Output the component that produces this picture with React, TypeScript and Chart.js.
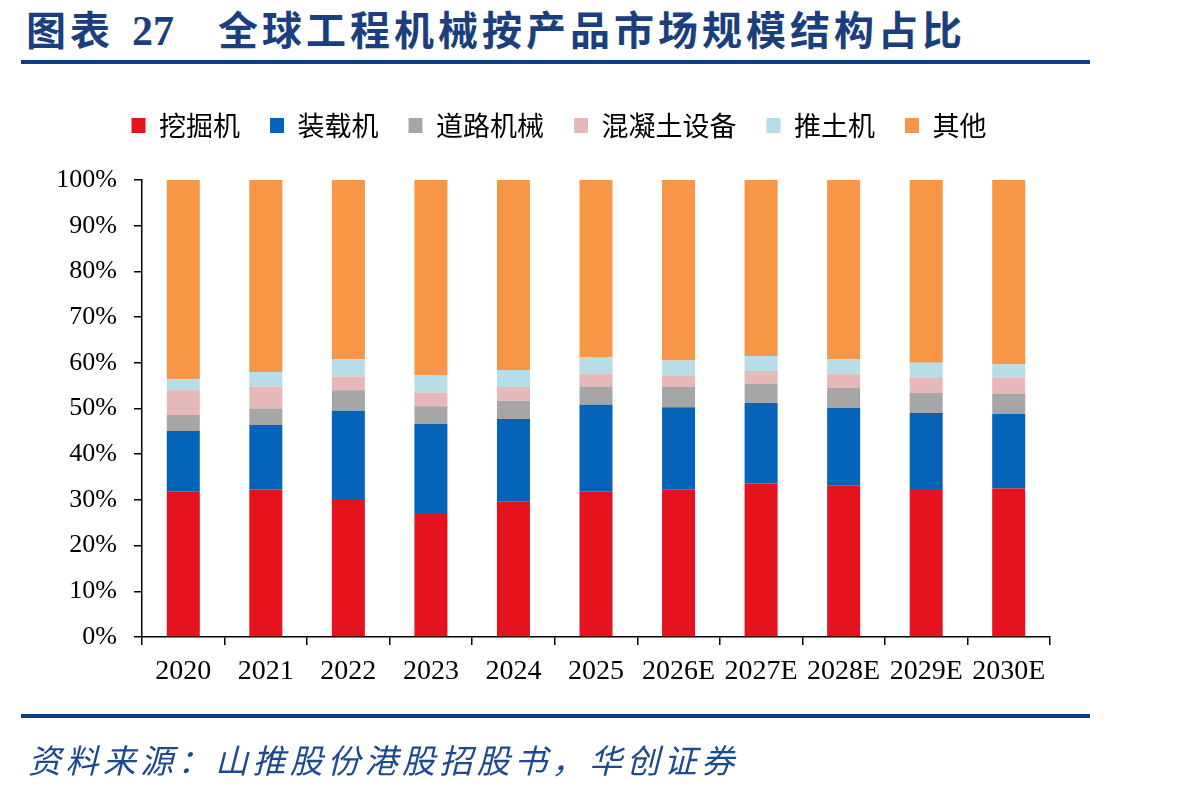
import React, { useEffect, useRef } from "react";
import { Chart, registerables } from "chart.js";

Chart.register(...registerables);

const categories = ["2020", "2021", "2022", "2023", "2024", "2025", "2026E", "2027E", "2028E", "2029E", "2030E"];
const seriesNames = ["挖掘机", "装载机", "道路机械", "混凝土设备", "推土机", "其他"];
const excavator = [31.9, 32.3, 30.0, 26.9, 29.6, 31.8, 32.2, 33.6, 33.2, 32.4, 32.5];
const loader = [13.2, 14.1, 19.5, 19.7, 18.1, 19.0, 18.1, 17.6, 16.9, 16.6, 16.3];
const roadMachinery = [3.5, 3.6, 4.5, 3.9, 4.0, 4.0, 4.4, 4.2, 4.4, 4.4, 4.4];
const concreteEquip = [5.4, 4.8, 3.0, 3.0, 3.0, 2.8, 2.5, 2.8, 3.1, 3.3, 3.5];
const bulldozer = [2.4, 3.2, 3.8, 3.8, 3.7, 3.6, 3.3, 3.3, 3.2, 3.3, 3.0];
const others = [43.6, 42.0, 39.2, 42.7, 41.6, 38.8, 39.5, 38.5, 39.2, 40.0, 40.3];
const yTicks = [0, 10, 20, 30, 40, 50, 60, 70, 80, 90, 100];
const colors = ["#E4131E", "#0563BA", "#A6A6A6", "#E6B8B7", "#B7DEE8", "#F79646"];

const titleText = "全球工程机械按产品市场规模结构占比";
const sourceText = "资料来源：山推股份港股招股书，华创证券";

const legendSpacer = {
  id: "legendSpacer",
  beforeInit(chart: any) {
    if (!chart.legend) return;
    const orig = chart.legend.fit;
    chart.legend.fit = function fit() {
      orig.bind(chart.legend)();
      this.height += 31;
    };
  },
  afterLayout(chart: any) {
    if (!chart.legend) return;
    chart.legend.left += 9;
    chart.legend.right += 9;
  },
};

export default function App() {
  const ref = useRef<HTMLCanvasElement | null>(null);

  useEffect(() => {
    if (!ref.current) return;
    const allSeries = [excavator, loader, roadMachinery, concreteEquip, bulldozer, others];
    const chart = new Chart(ref.current, {
      type: "bar",
      data: {
        labels: categories,
        datasets: allSeries.map((d, i) => ({
          label: seriesNames[i],
          data: d,
          backgroundColor: colors[i],
          borderWidth: 0,
          barPercentage: 0.4,
          categoryPercentage: 1.0,
        })),
      },
      plugins: [legendSpacer],
      options: {
        responsive: false,
        animation: false,
        events: [],
        layout: { padding: { left: 50, right: 148, top: 82, bottom: 0 } },
        plugins: {
          tooltip: { enabled: false },
          legend: {
            display: true,
            position: "top",
            labels: {
              boxWidth: 14,
              boxHeight: 15,
              padding: 30,
              color: "#000",
              font: { family: "'Noto Sans CJK SC'", size: 27 },
            },
          },
        },
        scales: {
          x: {
            stacked: true,
            afterFit: (s: any) => {
              s.height = 155;
            },
            border: { display: true, color: "#000", width: 1.5 },
            grid: { display: true, drawOnChartArea: false, drawTicks: true, tickLength: 8, color: "#000", lineWidth: 1.5 },
            ticks: {
              color: "#000",
              padding: 10,
              maxRotation: 0,
              autoSkip: false,
              font: { family: "'Liberation Serif'", size: 28 },
            },
          },
          y: {
            stacked: true,
            min: 0,
            max: 100,
            afterFit: (s: any) => {
              s.width = 92;
            },
            afterBuildTicks: (s: any) => {
              s.ticks = yTicks.map((v) => ({ value: v }));
            },
            border: { display: true, color: "#000", width: 1.5 },
            grid: { display: true, drawOnChartArea: false, drawTicks: true, tickLength: 8, color: "#000", lineWidth: 1.5 },
            ticks: {
              color: "#000",
              padding: 17,
              callback: (v: any) => v + "%",
              font: { family: "'Liberation Serif'", size: 26 },
            },
          },
        },
      },
    });
    return () => chart.destroy();
  }, []);

  return (
    <div style={{ position: "fixed", left: 0, top: 0, width: 1198, height: 792, background: "#fff", overflow: "hidden" }}>
      <div
        style={{
          position: "absolute",
          left: 26,
          top: 7,
          height: 42,
          lineHeight: "42px",
          whiteSpace: "nowrap",
          color: "#1B3E7C",
          fontWeight: 700,
          fontFamily: "'Noto Sans CJK SC'",
          fontSize: 40,
        }}
      >
        <span style={{ letterSpacing: 4 }}>图表</span>
        <span style={{ fontFamily: "'Liberation Serif'", fontSize: 42, marginLeft: 18 }}>27</span>
        <span style={{ letterSpacing: 4, marginLeft: 44 }}>{titleText}</span>
      </div>
      <div style={{ position: "absolute", left: 21, top: 60, width: 1069, height: 4, background: "#0F3E85" }} />
      <canvas ref={ref} width={1198} height={792} style={{ position: "absolute", left: 0, top: 0, width: 1198, height: 792 }} />
      <div style={{ position: "absolute", left: 21, top: 714, width: 1069, height: 4, background: "#0F3E85" }} />
      <div
        style={{
          position: "absolute",
          left: 28,
          top: 740,
          height: 38,
          lineHeight: "38px",
          whiteSpace: "nowrap",
          color: "#1D4A8C",
          fontStyle: "italic",
          fontFamily: "'Noto Sans CJK SC'",
          fontSize: 33,
          letterSpacing: 4.4,
        }}
      >
        {sourceText}
      </div>
    </div>
  );
}
